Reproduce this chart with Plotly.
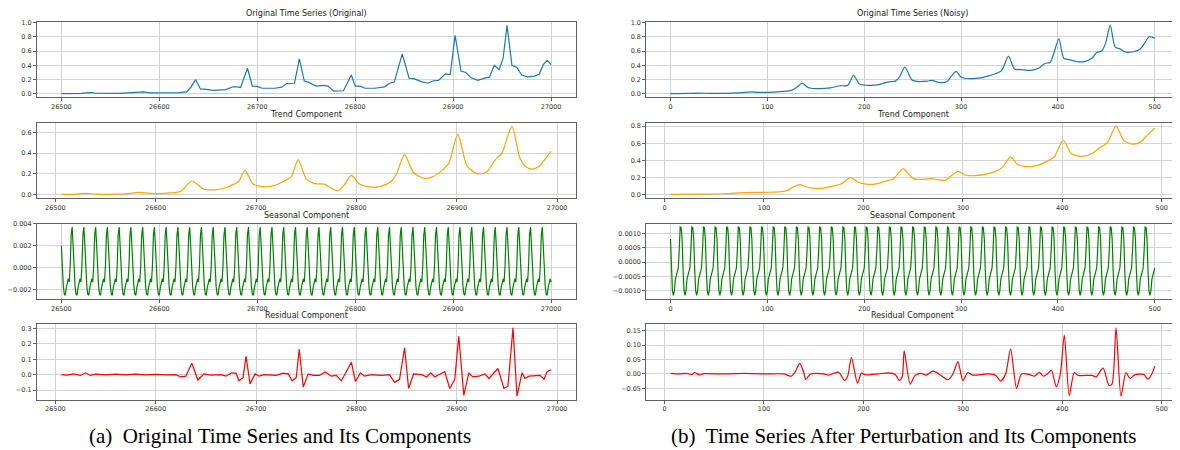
import numpy as np
import plotly.graph_objects as go

# ---------------- data ----------------
# (a) original series
orig_x = [26500, 26520, 26530, 26535, 26560, 26578, 26584, 26590, 26610, 26620, 26628, 26632, 26637, 26642,
          26648, 26655, 26668, 26675, 26680, 26683, 26690, 26695, 26700, 26705, 26718, 26725, 26730, 26738,
          26743, 26748, 26752, 26760, 26768, 26772, 26778, 26788, 26796, 26800, 26805, 26810, 26820, 26830,
          26835, 26840, 26848, 26855, 26860, 26868, 26874, 26880, 26885, 26892, 26897, 26902, 26908, 26913,
          26918, 26925, 26933, 26937, 26942, 26947, 26951, 26955, 26960, 26965, 26970, 26976, 26983, 26988,
          26992, 26996, 27000]
orig_y = [0.005, 0.008, 0.022, 0.01, 0.008, 0.018, 0.028, 0.015, 0.012, 0.02, 0.03, 0.09, 0.2, 0.07,
          0.065, 0.05, 0.06, 0.1, 0.1, 0.09, 0.36, 0.11, 0.105, 0.08, 0.08, 0.095, 0.145, 0.15,
          0.49, 0.18, 0.165, 0.11, 0.12, 0.11, 0.04, 0.045, 0.265, 0.11, 0.11, 0.08, 0.08, 0.1,
          0.15, 0.17, 0.56, 0.22, 0.215, 0.17, 0.15, 0.185, 0.19, 0.28, 0.27, 0.82, 0.32, 0.3,
          0.23, 0.19, 0.225, 0.235, 0.4, 0.34, 0.5, 0.96, 0.4, 0.37, 0.265, 0.24, 0.25, 0.28,
          0.41, 0.47, 0.41]

trend_x = [26506, 26520, 26530, 26540, 26570, 26583, 26600, 26615, 26625, 26636, 26648, 26658, 26668, 26678,
           26683, 26689, 26697, 26708, 26718, 26730, 26735, 26742, 26750, 26758, 26768, 26775, 26781, 26787,
           26795, 26803, 26815, 26825, 26835, 26840, 26848, 26857, 26868, 26876, 26885, 26892, 26901, 26910,
           26918, 26925, 26930, 26938, 26945, 26955, 26963, 26970, 26975, 26982, 26988, 26994]
trend_y = [0.0, 0.003, 0.01, 0.003, 0.005, 0.02, 0.008, 0.015, 0.03, 0.13, 0.05, 0.045, 0.06, 0.1,
           0.13, 0.235, 0.1, 0.075, 0.085, 0.14, 0.17, 0.335, 0.15, 0.105, 0.1, 0.06, 0.035, 0.08,
           0.185, 0.1, 0.07, 0.08, 0.13, 0.2, 0.385, 0.21, 0.155, 0.17, 0.23, 0.3, 0.58, 0.28,
           0.21, 0.2, 0.22, 0.33, 0.4, 0.66, 0.35, 0.26, 0.245, 0.27, 0.34, 0.42]

season_start = 26500
season_end = 27000
season_period = [0.0020, 0.0000, -0.0017, -0.0024, -0.0025, -0.0018, -0.0012, -0.0010, -0.0013, 0.0002,
                 0.0030, 0.0037]

resid_x = [26506, 26512, 26518, 26525, 26530, 26535, 26540, 26550, 26560, 26570, 26580, 26590, 26600, 26610,
           26620, 26625, 26630, 26636, 26642, 26648, 26655, 26665, 26670, 26676, 26680, 26683, 26687, 26690,
           26694, 26699, 26703, 26708, 26720, 26727, 26732, 26736, 26740, 26743, 26747, 26752, 26757, 26763,
           26769, 26775, 26780, 26785, 26790, 26795, 26799, 26804, 26808, 26815, 26825, 26833, 26838, 26843,
           26848, 26852, 26857, 26865, 26870, 26874, 26878, 26883, 26888, 26893, 26898, 26902, 26907, 26912,
           26916, 26922, 26928, 26932, 26937, 26941, 26947, 26951, 26956, 26960, 26965, 26968, 26972, 26983,
           26987, 26990, 26994]
resid_y = [0.0, -0.003, 0.005, -0.005, 0.012, -0.005, 0.003, -0.002, 0.003, -0.002, 0.004, -0.002, 0.002, -0.002,
           0.0, -0.015, -0.01, 0.075, -0.035, 0.005, -0.003, 0.0, -0.01, 0.012, 0.01, -0.04, -0.02, 0.12,
           -0.06, 0.005, -0.01, 0.0, -0.005, 0.01, 0.005, -0.04, -0.02, 0.165, -0.08, 0.005, -0.005, -0.005,
           0.018, -0.01, -0.005, -0.04, 0.02, 0.08, -0.045, 0.012, -0.01, 0.0, -0.005, 0.0, -0.05, -0.03,
           0.175, -0.09, 0.005, 0.0, -0.015, 0.012, -0.015, 0.0, 0.02, -0.09, -0.03, 0.25, -0.135, 0.012,
           -0.015, -0.01, 0.005, -0.025, 0.015, 0.04, -0.09, -0.075, 0.305, -0.14, 0.012, -0.025, -0.01, -0.005,
           -0.03, 0.02, 0.032]

# (b) noisy series
noisy_x = [0, 30, 40, 70, 85, 90, 110, 125, 131, 136, 142, 150, 165, 175, 183, 189, 195, 205, 215, 225, 232,
           236, 242, 249, 255, 265, 270, 277, 285, 290, 295, 300, 310, 320, 330, 337, 342, 349, 355, 362, 372,
           380, 387, 392, 401, 406, 412, 420, 428, 435, 440, 445, 449, 454, 459, 464, 470, 478, 485, 490, 494,
           500]
noisy_y = [0.005, 0.012, 0.008, 0.015, 0.028, 0.022, 0.03, 0.05, 0.1, 0.15, 0.09, 0.075, 0.085, 0.115, 0.12,
           0.26, 0.14, 0.12, 0.13, 0.17, 0.18, 0.23, 0.375, 0.2, 0.175, 0.18, 0.19, 0.16, 0.17, 0.25, 0.315,
           0.235, 0.215, 0.225, 0.26, 0.29, 0.33, 0.53, 0.35, 0.34, 0.33, 0.36, 0.43, 0.44, 0.77, 0.5, 0.48,
           0.45, 0.455, 0.5, 0.58, 0.6, 0.7, 0.96, 0.66, 0.63, 0.585, 0.59, 0.63, 0.72, 0.8, 0.78]

ntrend_x = [6, 30, 60, 80, 100, 115, 123, 130, 136, 142, 148, 160, 170, 178, 187, 195, 203, 213, 225, 230,
            240, 250, 258, 268, 275, 282, 288, 295, 303, 312, 322, 333, 340, 348, 355, 365, 375, 385, 392,
            401, 409, 420, 430, 438, 445, 454, 462, 470, 478, 486, 493]
ntrend_y = [0.0, 0.003, 0.008, 0.022, 0.025, 0.03, 0.045, 0.09, 0.115, 0.09, 0.075, 0.075, 0.1, 0.125, 0.2,
            0.14, 0.12, 0.125, 0.165, 0.18, 0.3, 0.185, 0.175, 0.185, 0.175, 0.165, 0.215, 0.27, 0.225, 0.22,
            0.235, 0.27, 0.32, 0.44, 0.35, 0.325, 0.34, 0.39, 0.44, 0.635, 0.48, 0.445, 0.48, 0.55, 0.6, 0.8,
            0.63, 0.59, 0.61, 0.7, 0.775]

nseason_start = 0
nseason_end = 500
nseason_period = [0.0008, -0.0003, -0.0010, -0.00115, -0.0010, -0.0006, -0.00045, -0.0004, -0.0002, 0.0004,
                  0.00122, 0.0012]

nresid_x = [6, 15, 22, 28, 30, 35, 40, 60, 80, 100, 120, 127, 131, 136, 140, 142, 147, 160, 165, 175, 181,
            184, 188, 194, 198, 202, 215, 225, 232, 236, 239, 241, 247, 252, 258, 263, 270, 278, 285, 290,
            295, 300, 305, 310, 325, 333, 338, 343, 348, 354, 359, 368, 372, 377, 381, 385, 389, 394, 398,
            402, 407, 412, 416, 430, 434, 441, 447, 450, 454, 459, 464, 468, 473, 482, 486, 490, 493]
nresid_y = [0.002, 0.0, 0.002, -0.002, 0.005, -0.003, 0.001, 0.0, 0.002, 0.0, 0.0, -0.008, 0.005, 0.037,
            0.005, -0.019, 0.0, 0.0, -0.004, 0.006, -0.023, -0.01, 0.057, -0.032, 0.003, -0.003, 0.0, 0.004,
            -0.002, -0.023, -0.01, 0.08, -0.035, -0.005, 0.002, -0.004, 0.01, -0.005, -0.02, 0.0, 0.043,
            -0.023, 0.005, -0.004, 0.0, -0.005, -0.025, 0.0, 0.087, -0.05, 0.0, -0.003, -0.008, 0.006,
            -0.008, 0.0, 0.013, -0.045, 0.0, 0.135, -0.075, 0.005, -0.005, -0.005, -0.01, 0.02, -0.04,
            -0.035, 0.16, -0.077, 0.005, -0.015, -0.003, -0.002, -0.018, 0.0, 0.027]

titles_a = ["Original Time Series (Original)", "Trend Component", "Seasonal Component", "Residual Component"]
titles_b = ["Original Time Series (Noisy)", "Trend Component", "Seasonal Component", "Residual Component"]
caption_a = "(a)  Original Time Series and Its Components"
caption_b = "(b)  Time Series After Perturbation and Its Components"

xticks_a = [26500, 26600, 26700, 26800, 26900, 27000]
xticks_b = [0, 100, 200, 300, 400, 500]
yticks = {
    (0, 0): ([0.0, 0.2, 0.4, 0.6, 0.8, 1.0], ".1f"),
    (0, 1): ([0.0, 0.2, 0.4, 0.6, 0.8], ".1f"),
    (0, 2): ([-0.002, 0.0, 0.002, 0.004], ".3f"),
    (0, 3): ([-0.1, 0.0, 0.1, 0.2, 0.3], ".1f"),
    (1, 0): ([0.0, 0.2, 0.4, 0.6, 0.8, 1.0], ".1f"),
    (1, 1): ([0.0, 0.2, 0.4, 0.6, 0.8], ".1f"),
    (1, 2): ([-0.0010, -0.0005, 0.0, 0.0005, 0.0010], ".4f"),
    (1, 3): ([-0.05, 0.0, 0.05, 0.10, 0.15], ".2f"),
}


def tile(start, end, period):
    xs = list(range(start, end + 1))
    ys = [period[(x - start) % len(period)] for x in xs]
    return xs, ys


seas_x, seas_y = tile(season_start, season_end, season_period)
nseas_x, nseas_y = tile(nseason_start, nseason_end, nseason_period)

COLORS = ["#1f77b4", "#ffa500", "#008000", "#ff0000"]

series = {
    0: [(orig_x, orig_y, "linear"), (trend_x, trend_y, "spline"), (seas_x, seas_y, "linear"),
        (resid_x, resid_y, "linear")],
    1: [(noisy_x, noisy_y, "spline"), (ntrend_x, ntrend_y, "spline"), (nseas_x, nseas_y, "linear"),
        (nresid_x, nresid_y, "spline")],
}

# page body has an 8px default margin -> lay out in page pixels minus 8
OFF = 8
W, H = 1172, 442
col_px = [(32, 573), (644, 1179)]
row_px = [(18, 94), (120, 196), (222, 298), (324, 400)]

fig = go.Figure()
annotations = []
layout_axes = {}
FRAME = "#606060"
GRID = "#d3d3d3"
TICKFONT = dict(family="DejaVu Sans", size=6.5, color="#333333")

idx = 0
for c in range(2):
    for r in range(4):
        idx += 1
        xs, ys, shape = series[c][r]
        xa = "x" if idx == 1 else f"x{idx}"
        ya = "y" if idx == 1 else f"y{idx}"
        tr = dict(x=xs, y=ys, mode="lines", xaxis=xa, yaxis=ya, showlegend=False,
                  line=dict(color=COLORS[r], width=1.2, shape=shape))
        if shape == "spline":
            tr["line"]["smoothing"] = 0.7
        fig.add_trace(go.Scatter(**tr))

        xmin, xmax = min(xs), max(xs)
        ymin, ymax = min(ys), max(ys)
        xp = 0.05 * (xmax - xmin)
        yp = 0.05 * (ymax - ymin)
        x0, x1 = [v - OFF for v in col_px[c]]
        y0, y1 = [v - OFF for v in row_px[r]]
        xt = xticks_a if c == 0 else xticks_b
        yt, yf = yticks[(c, r)]
        common = dict(showline=True, mirror=True, linecolor=FRAME, linewidth=1, showgrid=True,
                      gridcolor=GRID, gridwidth=1, zeroline=False, ticks="outside", ticklen=3,
                      tickcolor=FRAME, tickfont=TICKFONT)
        layout_axes["xaxis" if idx == 1 else f"xaxis{idx}"] = dict(
            domain=[x0 / W, min(x1 / W, 1.0)], range=[xmin - xp, xmax + xp], anchor=ya,
            tickvals=xt, ticktext=[str(v) for v in xt], **common)
        layout_axes["yaxis" if idx == 1 else f"yaxis{idx}"] = dict(
            domain=[1 - y1 / H, 1 - y0 / H], range=[ymin - yp, ymax + yp], anchor=xa,
            tickvals=yt, tickformat=yf, **common)
        title = (titles_a if c == 0 else titles_b)[r]
        annotations.append(dict(text=title, x=(x0 + x1) / 2 / W, y=1 - (y0 - 2) / H, xref="paper",
                                yref="paper", xanchor="center", yanchor="bottom", showarrow=False,
                                font=dict(family="DejaVu Sans", size=8, color="#222222")))

annotations.append(dict(text=caption_a, x=(276 - OFF) / W, y=1 - (437 - OFF) / H, xref="paper",
                        yref="paper", xanchor="center", yanchor="middle", showarrow=False,
                        font=dict(family="Liberation Serif", size=21, color="#000000")))
annotations.append(dict(text=caption_b, x=(902 - OFF) / W, y=1 - (437 - OFF) / H, xref="paper",
                        yref="paper", xanchor="center", yanchor="middle", showarrow=False,
                        font=dict(family="Liberation Serif", size=21, color="#000000")))

fig.update_layout(width=W, height=H, margin=dict(l=0, r=0, t=0, b=0), paper_bgcolor="white",
                  plot_bgcolor="white", annotations=annotations, **layout_axes)
fig.write_html("out.html")
